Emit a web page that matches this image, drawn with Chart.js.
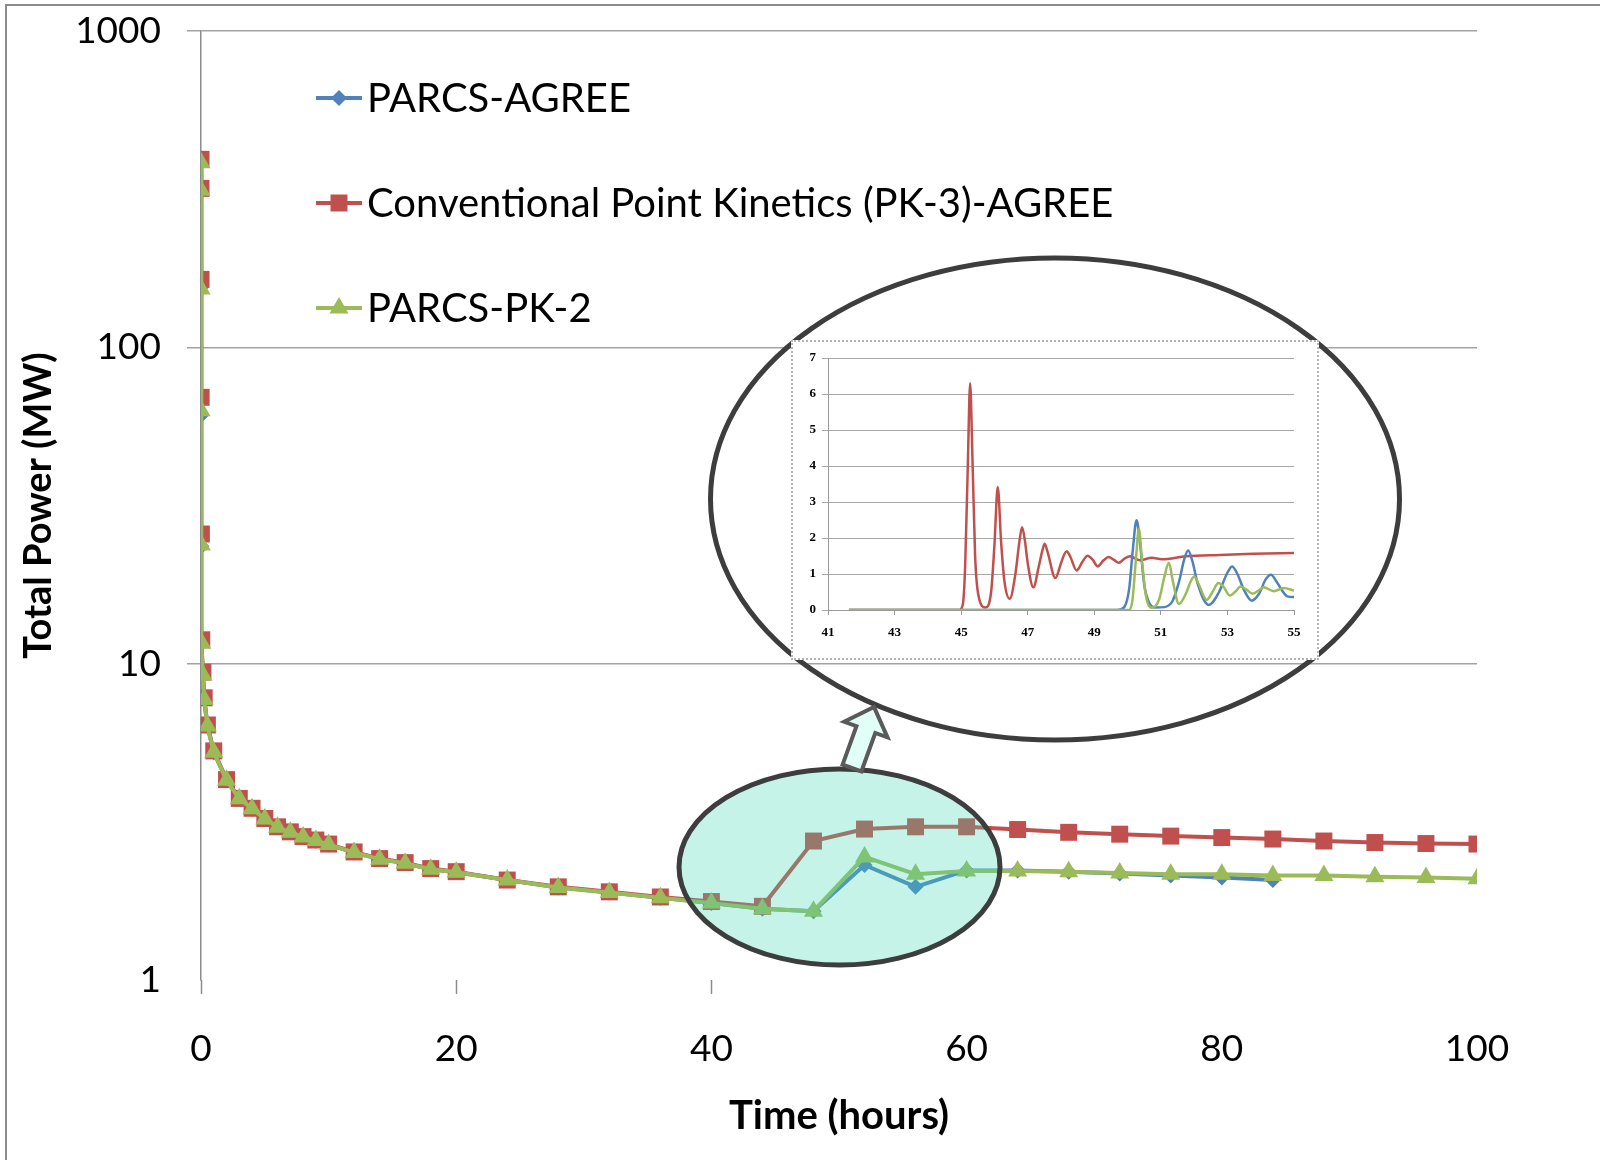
<!DOCTYPE html>
<html>
<head>
<meta charset="utf-8">
<title>Total Power vs Time</title>
<script src="https://cdn.jsdelivr.net/npm/chart.js@4.4.1/dist/chart.umd.min.js"></script>
<style>
    body { margin: 0; background: #fff; }
    #wrap { position: relative; width: 1600px; height: 1160px; overflow: hidden; }
    #main { position: absolute; left: 0; top: 0; }
    #inset-box {
        position: absolute; left: 791px; top: 340px;
        width: 524px; height: 316px;
        border: 2px dotted #b4b4b4; background: #fff;
    }
    #inset { display: block; }
</style>
</head>
<body>
<div id="wrap">
    <canvas id="main" width="1600" height="1160"></canvas>
    <div id="inset-box"><canvas id="inset" width="524" height="316"></canvas></div>
</div>
<script>
// Time after shutdown (hours) shared by the three runs
const hours = [0, 0.0003, 0.003, 0.01, 0.03, 0.06, 0.15, 0.25, 0.5, 1,
    2, 3, 4, 5, 6, 7, 8, 9, 10, 12,
    14, 16, 18, 20, 24, 28, 32, 36, 40, 44,
    48, 52, 56, 60, 64, 68, 72, 76, 80, 84,
    88, 92, 96, 100];

// Total power (MW); the PARCS-AGREE run stops at 84 h
const agreePower = [386, 316, 155, 61, 23.5, 11.7, 9.3, 7.7, 6.35, 5.25,
    4.28, 3.74, 3.48, 3.23, 3.04, 2.93, 2.83, 2.76, 2.68, 2.53,
    2.41, 2.34, 2.24, 2.19, 2.07, 1.96, 1.89, 1.82, 1.75, 1.68,
    1.65, 2.31, 1.97, 2.22, 2.22, 2.20, 2.17, 2.14, 2.11, 2.07];
const pk3Power = [393, 318, 164, 69.5, 25.7, 11.9, 9.4, 7.8, 6.4, 5.3,
    4.3, 3.75, 3.49, 3.24, 3.05, 2.94, 2.84, 2.77, 2.69, 2.54,
    2.42, 2.35, 2.25, 2.20, 2.07, 1.97, 1.90, 1.83, 1.77, 1.71,
    2.75, 3.00, 3.05, 3.05, 2.99, 2.93, 2.89, 2.85, 2.82, 2.79,
    2.75, 2.72, 2.70, 2.69];
const pk2Power = [383, 314, 153, 63, 23.7, 11.6, 9.2, 7.7, 6.35, 5.25,
    4.28, 3.74, 3.48, 3.23, 3.04, 2.93, 2.83, 2.76, 2.68, 2.53,
    2.41, 2.34, 2.24, 2.19, 2.07, 1.96, 1.89, 1.82, 1.75, 1.68,
    1.65, 2.45, 2.16, 2.21, 2.21, 2.20, 2.18, 2.16, 2.16, 2.14,
    2.14, 2.12, 2.11, 2.09];
const powerTicks = [1, 10, 100, 1000];

// Close-up of the 41-55 h window (MW, linear)
const insetPk3Time = [41.63, 44.95, 45.05, 45.12, 45.2, 45.27, 45.34, 45.42, 45.52, 45.73,
    45.9, 46.0, 46.1, 46.2, 46.3, 46.46, 46.63, 46.75, 46.83, 46.92,
    47.0, 47.17, 47.33, 47.44, 47.51, 47.6, 47.83, 48.0, 48.1, 48.17,
    48.27, 48.47, 48.65, 48.8, 48.95, 49.1, 49.28, 49.43, 49.58, 49.74,
    49.9, 50.07, 50.37, 50.73, 51.03, 51.75, 52.76, 53.78, 55];
const insetPk3Power = [0, 0, 0.15, 1.2, 4.0, 6.3, 4.2, 1.5, 0.4, 0.07,
    0.5, 1.8, 3.42, 1.9, 0.8, 0.31, 1.0, 1.9, 2.3, 1.9,
    1.3, 0.63, 1.2, 1.65, 1.84, 1.6, 0.89, 1.3, 1.55, 1.63,
    1.5, 1.1, 1.35, 1.51, 1.4, 1.21, 1.38, 1.47, 1.4, 1.31,
    1.42, 1.49, 1.38, 1.45, 1.41, 1.49, 1.53, 1.56, 1.58];
const insetAgreeTime = [41.63, 49.7, 49.9, 50.05, 50.15, 50.27, 50.38, 50.5, 50.65, 50.83,
    51.1, 51.35, 51.55, 51.7, 51.82, 51.95, 52.1, 52.44, 52.75, 52.98,
    53.14, 53.3, 53.5, 53.73, 53.95, 54.15, 54.31, 54.5, 54.8, 55];
const insetAgreePower = [0, 0, 0.08, 0.6, 1.6, 2.49, 1.8, 0.7, 0.2, 0.07,
    0.08, 0.25, 0.8, 1.4, 1.65, 1.35, 0.75, 0.14, 0.5, 1.0,
    1.21, 1.0, 0.55, 0.26, 0.45, 0.85, 0.98, 0.75, 0.38, 0.36];
const insetPk2Time = [41.63, 50.05, 50.15, 50.25, 50.34, 50.43, 50.55, 50.73, 50.95, 51.1,
    51.24, 51.36, 51.54, 51.75, 51.9, 52.0, 52.12, 52.38, 52.55, 52.73,
    52.9, 53.07, 53.25, 53.39, 53.55, 53.76, 53.95, 54.09, 54.39, 54.69, 55];
const insetPk2Power = [0, 0, 0.3, 1.4, 2.26, 1.4, 0.4, 0.06, 0.3, 0.9,
    1.31, 0.8, 0.17, 0.45, 0.8, 0.93, 0.75, 0.28, 0.5, 0.75,
    0.62, 0.40, 0.52, 0.65, 0.58, 0.45, 0.55, 0.63, 0.52, 0.61, 0.54];
const insetHourTicks = [41, 43, 45, 47, 49, 51, 53, 55];

const BLUE = '#4f81bd';
const RED = '#c0504d';
const GREEN = '#9bbb59';
const FONT = 'Lato, "Open Sans", sans-serif';

function pts(xs, ys) {
    return ys.map((y, i) => ({ x: xs[i], y: y }));
}

// keep the plot box where we put it, no extra room for tick labels
function fixWidth(w) {
    return (scale) => {
        scale.width = w;
        scale.paddingTop = 0;
        scale.paddingBottom = 0;
    };
}

function drawMarker(ctx, ds, x, y) {
    ctx.fillStyle = ds.backgroundColor;
    Chart.helpers.drawPoint(ctx, {
        pointStyle: ds.pointStyle,
        radius: ds.pointRadius,
        rotation: 0,
        borderWidth: 0
    }, x, y);
}

// legend, axis titles, frame and the call-out shapes
const decorations = {
    id: 'decorations',
    beforeDraw(chart) {
        const ctx = chart.ctx;
        ctx.save();
        ctx.strokeStyle = '#8c8c8c';
        ctx.lineWidth = 2;
        ctx.beginPath();
        ctx.moveTo(6, 1160);
        ctx.lineTo(6, 5);
        ctx.lineTo(1600, 5);
        ctx.stroke();
        ctx.restore();
    },
    afterDatasetsDraw(chart) {
        const ctx = chart.ctx;
        ctx.save();

        // large ellipse around the close-up
        ctx.strokeStyle = '#3d3d3d';
        ctx.lineWidth = 5;
        ctx.beginPath();
        ctx.ellipse(1055, 499, 344.5, 241, 0, 0, Math.PI * 2);
        ctx.stroke();

        // highlighted 40-60 h region
        ctx.fillStyle = 'rgba(64, 214, 178, 0.3)';
        ctx.beginPath();
        ctx.ellipse(839.5, 867, 160.5, 98, 0, 0, Math.PI * 2);
        ctx.fill();
        ctx.stroke();

        // block arrow pointing to the close-up
        const base = [852, 768], tip = [874, 707];
        const len = Math.hypot(tip[0] - base[0], tip[1] - base[1]);
        const d = [(tip[0] - base[0]) / len, (tip[1] - base[1]) / len];
        const n = [-d[1], d[0]];
        const head = [tip[0] - 24 * d[0], tip[1] - 24 * d[1]];
        const off = (p, k) => [p[0] + k * n[0], p[1] + k * n[1]];
        const poly = [off(base, -10), off(head, -10), off(head, -23), tip,
            off(head, 23), off(head, 10), off(base, 10)];
        ctx.beginPath();
        poly.forEach((p, i) => i ? ctx.lineTo(p[0], p[1]) : ctx.moveTo(p[0], p[1]));
        ctx.closePath();
        ctx.fillStyle = '#e2fff7';
        ctx.fill();
        ctx.strokeStyle = '#5a5a5a';
        ctx.lineWidth = 4;
        ctx.lineJoin = 'miter';
        ctx.stroke();
        ctx.restore();
    },
    afterDraw(chart) {
        const ctx = chart.ctx;
        ctx.save();

        // legend
        chart.data.datasets.forEach((ds, i) => {
            const y = 98 + i * 105;
            ctx.strokeStyle = ds.borderColor;
            ctx.lineWidth = 4;
            ctx.beginPath();
            ctx.moveTo(316, y);
            ctx.lineTo(362, y);
            ctx.stroke();
            drawMarker(ctx, ds, 339, y);
            ctx.fillStyle = '#000';
            ctx.font = '40px ' + FONT;
            ctx.textAlign = 'left';
            ctx.textBaseline = 'middle';
            ctx.fillText(ds.label, 367, y + 1);
        });

        // axis titles
        const area = chart.chartArea;
        ctx.fillStyle = '#000';
        ctx.font = 'bold 40px ' + FONT;
        ctx.textAlign = 'center';
        ctx.textBaseline = 'middle';
        ctx.fillText('Time (hours)', (area.left + area.right) / 2, 1116);
        ctx.font = 'bold 38px ' + FONT;
        ctx.translate(39, (area.top + area.bottom) / 2);
        ctx.rotate(-Math.PI / 2);
        ctx.fillText('Total Power (MW)', 0, 0);
        ctx.restore();
    }
};

new Chart(document.getElementById('main'), {
    type: 'line',
    data: {
        datasets: [{
            label: 'PARCS-AGREE',
            data: pts(hours, agreePower),
            borderColor: BLUE,
            backgroundColor: BLUE,
            borderWidth: 4,
            pointStyle: 'rectRot',
            pointRadius: 8,
            pointBorderWidth: 0,
            order: 3
        }, {
            label: 'Conventional Point Kinetics (PK-3)-AGREE',
            data: pts(hours, pk3Power),
            borderColor: RED,
            backgroundColor: RED,
            borderWidth: 4,
            pointStyle: 'rect',
            pointRadius: 12,
            pointBorderWidth: 0,
            order: 2
        }, {
            label: 'PARCS-PK-2',
            data: pts(hours, pk2Power),
            borderColor: GREEN,
            backgroundColor: GREEN,
            borderWidth: 4,
            pointStyle: 'triangle',
            pointRadius: 11,
            pointBorderWidth: 0,
            order: 1
        }]
    },
    options: {
        responsive: false,
        animation: false,
        devicePixelRatio: 1,
        layout: { autoPadding: false, padding: { top: 31, right: 123, left: 0, bottom: 0 } },
        plugins: { legend: { display: false }, tooltip: { enabled: false } },
        elements: { line: { tension: 0 } },
        scales: {
            x: {
                type: 'linear',
                min: 0,
                max: 100,
                afterFit: (scale) => { scale.height = 180; },
                ticks: {
                    stepSize: 20,
                    maxRotation: 0,
                    padding: 33,
                    color: '#000',
                    font: { family: FONT, size: 37 }
                },
                grid: {
                    drawOnChartArea: false,
                    tickLength: 14,
                    tickWidth: 1.5,
                    tickColor: (c) => (c.tick && c.tick.value <= 40) ? '#8c8c8c' : 'rgba(0,0,0,0)'
                },
                border: { display: false }
            },
            y: {
                type: 'logarithmic',
                min: 1,
                max: 1000,
                afterFit: fixWidth(201),
                afterBuildTicks: (scale) => { scale.ticks = powerTicks.map(v => ({ value: v })); },
                ticks: {
                    padding: 26,
                    color: '#000',
                    font: { family: FONT, size: 37 },
                    callback: (v) => String(v)
                },
                grid: {
                    color: (c) => (c.tick && c.tick.value === 1) ? 'rgba(0,0,0,0)' : '#a3a3a3',
                    lineWidth: 1.5,
                    tickLength: 14
                },
                border: { color: '#8c8c8c', width: 1.5 }
            }
        }
    },
    plugins: [decorations]
});

// close-up chart, 41-55 h
const insetFont = { family: '"Liberation Serif", serif', size: 13, weight: 'bold' };
new Chart(document.getElementById('inset'), {
    type: 'line',
    data: {
        datasets: [{
            label: 'PARCS-AGREE',
            data: pts(insetAgreeTime, insetAgreePower),
            borderColor: BLUE,
            order: 2
        }, {
            label: 'Conventional Point Kinetics (PK-3)-AGREE',
            data: pts(insetPk3Time, insetPk3Power),
            borderColor: RED,
            order: 3
        }, {
            label: 'PARCS-PK-2',
            data: pts(insetPk2Time, insetPk2Power),
            borderColor: GREEN,
            order: 1
        }]
    },
    options: {
        responsive: false,
        animation: false,
        devicePixelRatio: 1,
        layout: { autoPadding: false, padding: { top: 16, right: 23, left: 0, bottom: 0 } },
        plugins: { legend: { display: false }, tooltip: { enabled: false } },
        elements: {
            point: { radius: 0 },
            line: { borderWidth: 2.5, cubicInterpolationMode: 'monotone' }
        },
        scales: {
            x: {
                type: 'linear',
                min: 41,
                max: 55,
                afterFit: (scale) => { scale.height = 48; },
                afterBuildTicks: (scale) => { scale.ticks = insetHourTicks.map(v => ({ value: v })); },
                ticks: { maxRotation: 0, padding: 10, color: '#000', font: insetFont },
                grid: { drawOnChartArea: false, tickLength: 5, tickColor: '#9a9a9a' },
                border: { color: '#9a9a9a' }
            },
            y: {
                min: 0,
                max: 7,
                afterFit: fixWidth(35),
                ticks: { stepSize: 1, padding: 6, color: '#000', font: insetFont },
                grid: { color: '#a8a8a8', tickLength: 6 },
                border: { color: '#9a9a9a' }
            }
        }
    }
});
</script>
</body>
</html>
